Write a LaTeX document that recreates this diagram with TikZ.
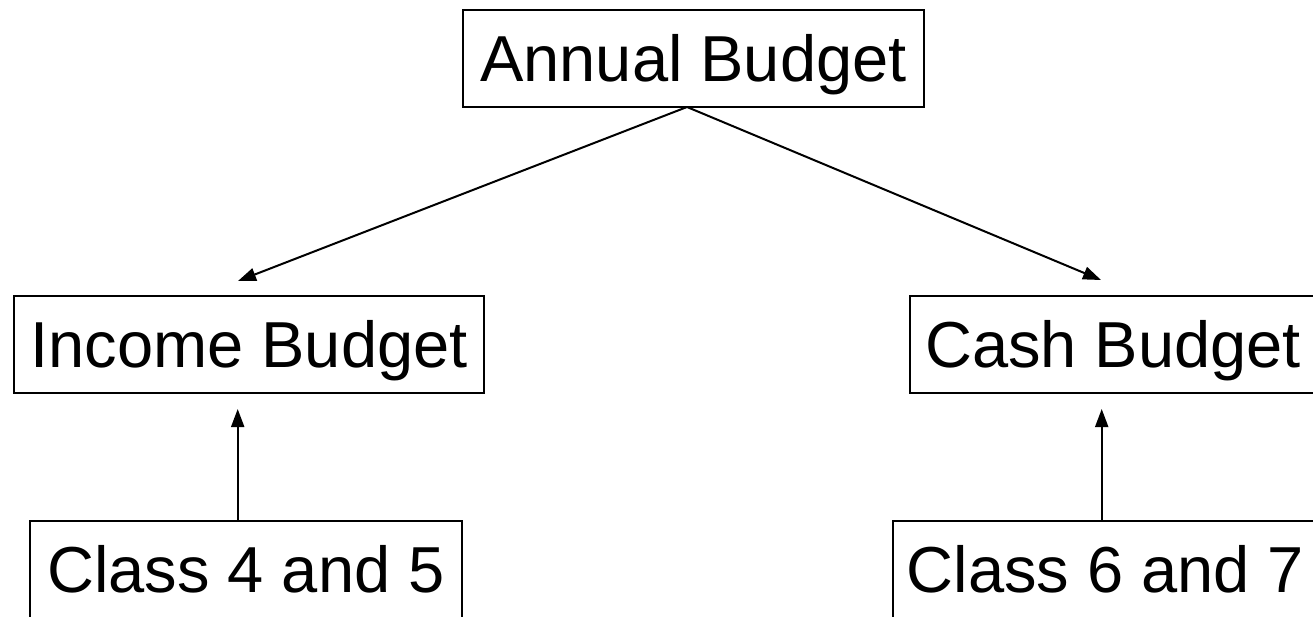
\documentclass[tikz,border=0pt]{standalone}
\usepackage{fontspec}
\setmainfont{Liberation Sans}
\usetikzlibrary{arrows.meta}
\begin{document}
\begin{tikzpicture}[x=1pt,y=-1pt,
  box/.style={draw=black,line width=2pt,inner sep=0pt,minimum height=97pt,
    text height=46.5pt,text depth=0pt,font=\fontsize{65}{78}\selectfont},
  arr/.style={line width=2pt,-{Triangle[length=18pt,width=13pt]}}]
\useasboundingbox (0,0) rectangle (1313,616);
\node[box,minimum width=461pt] (ann) at (693.5,58.5) {Annual Budget};
\node[box,minimum width=470pt] (inc) at (249,344.5) {Income Budget};
\node[box,minimum width=406pt] (cash) at (1113,344.5) {Cash Budget};
\node[box,minimum width=432pt] (c45) at (246,569.5) {Class 4 and 5};
\node[box,minimum width=425pt] (c67) at (1105.5,569.5) {Class 6 and 7};
\coordinate (apex) at (687,107);
\coordinate (itip) at (238,281);
\coordinate (ctip) at (1101,280);
\coordinate (ibot) at (237.7,521);
\coordinate (iup) at (237.7,409);
\coordinate (cbot) at (1101.7,521);
\coordinate (cup) at (1101.7,409);
\draw[arr] (apex) -- (itip);
\draw[arr] (apex) -- (ctip);
\draw[arr] (ibot) -- (iup);
\draw[arr] (cbot) -- (cup);
\end{tikzpicture}
\end{document}
